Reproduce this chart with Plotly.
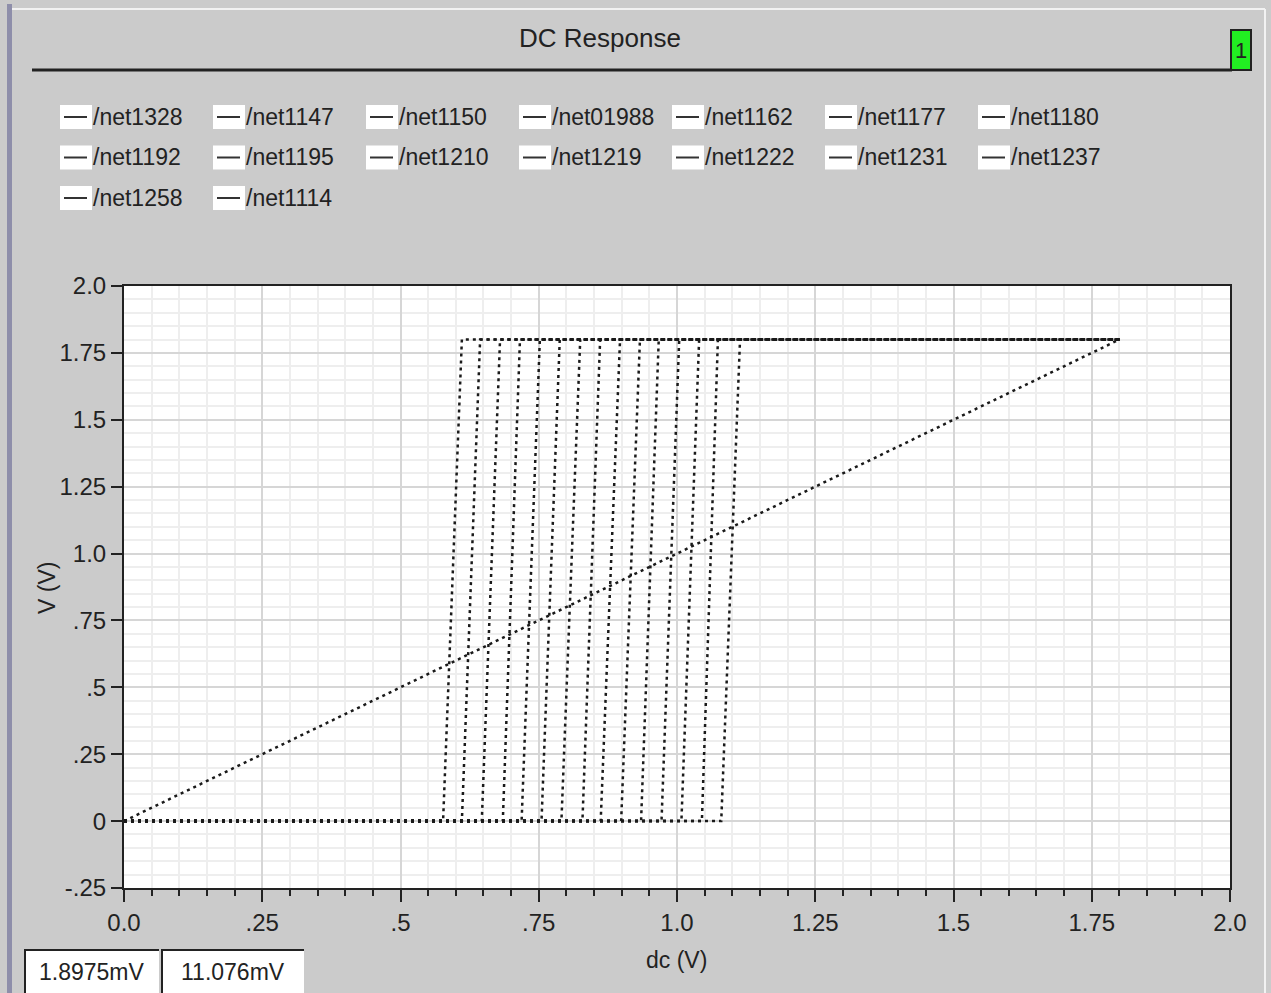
import plotly.graph_objects as go

# sweep of the dc source, and switching points
sweep_end = 1.8
v_high = 1.8
ramp_name = "/net1328"
step_names = ["/net1147", "/net1150", "/net01988", "/net1162", "/net1177", "/net1180",
              "/net1192", "/net1195", "/net1210", "/net1219", "/net1222", "/net1231",
              "/net1237", "/net1258", "/net1114"]
switch_lo = [0.577, 0.611, 0.647, 0.685, 0.719, 0.755, 0.791, 0.829,
             0.862, 0.899, 0.935, 0.972, 1.008, 1.045, 1.080]
switch_hi = [0.611, 0.644, 0.680, 0.716, 0.752, 0.788, 0.825, 0.861,
             0.897, 0.933, 0.967, 1.004, 1.040, 1.074, 1.114]

legend_names = [ramp_name] + step_names

x_tickvals = [0, 0.25, 0.5, 0.75, 1.0, 1.25, 1.5, 1.75, 2.0]
x_ticktext = ["0.0", ".25", ".5", ".75", "1.0", "1.25", "1.5", "1.75", "2.0"]
y_tickvals = [-0.25, 0, 0.25, 0.5, 0.75, 1.0, 1.25, 1.5, 1.75, 2.0]
y_ticktext = ["-.25", "0", ".25", ".5", ".75", "1.0", "1.25", "1.5", "1.75", "2.0"]

marker_a = "1.8975mV"
marker_b = "11.076mV"

W, H = 1271, 993
L, R, T, B = 124, 1230, 286, 888
FONT = "Liberation Sans, Arial, sans-serif"
PANEL = "#cbcbcb"
INK = "#222222"


def px(x):
    return (x - L) / (R - L)


def py(y):
    return (B - y) / (B - T)


def label(x, y, text, size=23, anchor="center", angle=0):
    return dict(x=px(x), y=py(y), xref="paper", yref="paper", text=text,
                showarrow=False, xanchor=anchor, yanchor="middle", textangle=angle,
                font=dict(family=FONT, size=size, color=INK))


line_style = dict(color="#1a1a1a", width=2.5, dash="3px,4px")

fig = go.Figure()
fig.add_trace(go.Scatter(x=[0, sweep_end], y=[0, sweep_end], mode="lines",
                         line=line_style, name=ramp_name))
for name, lo, hi in zip(step_names, switch_lo, switch_hi):
    fig.add_trace(go.Scatter(x=[0, lo, hi, sweep_end], y=[0, 0, v_high, v_high],
                             mode="lines", line=line_style, name=name))

shapes = []
annotations = []

# frame decorations
shapes.append(dict(type="rect", xref="paper", yref="paper", x0=px(7), x1=px(12),
                   y0=py(993), y1=py(4), fillcolor="#8e8eaa", line_width=0, layer="below"))
shapes.append(dict(type="line", xref="paper", yref="paper", x0=px(12), x1=px(1265),
                   y0=py(9), y1=py(9), line=dict(color="#f2f2f2", width=2), layer="below"))
shapes.append(dict(type="line", xref="paper", yref="paper", x0=px(1265), x1=px(1265),
                   y0=py(993), y1=py(9), line=dict(color="#f2f2f2", width=2), layer="below"))
# title underline
shapes.append(dict(type="line", xref="paper", yref="paper", x0=px(32), x1=px(1232),
                   y0=py(70), y1=py(70), line=dict(color=INK, width=3)))
# green tag
shapes.append(dict(type="rect", xref="paper", yref="paper", x0=px(1231), x1=px(1251),
                   y0=py(70), y1=py(30), fillcolor="#22ee22", line=dict(color=INK, width=2)))
annotations.append(label(1241, 51, "1", size=22))

# legend
for i, name in enumerate(legend_names):
    col, row = i % 7, i // 7
    bx = 60 + 153 * col
    by = 117 + 40.5 * row
    shapes.append(dict(type="rect", xref="paper", yref="paper", x0=px(bx), x1=px(bx + 32),
                       y0=py(by + 12), y1=py(by - 12), fillcolor="white", line_width=0))
    shapes.append(dict(type="line", xref="paper", yref="paper", x0=px(bx + 4), x1=px(bx + 27),
                       y0=py(by), y1=py(by), line=dict(color="#333333", width=2)))
    annotations.append(label(bx + 31, by, name, anchor="left"))

# marker readouts
for x0, x1, txt in [(25, 159, marker_a), (162, 304, marker_b)]:
    shapes.append(dict(type="rect", xref="paper", yref="paper", x0=px(x0), x1=px(x1),
                       y0=py(993), y1=py(950), fillcolor="white", line_width=0))
    shapes.append(dict(type="path", xref="paper", yref="paper",
                       path=f"M {px(x0)} {py(993)} L {px(x0)} {py(950)} L {px(x1)} {py(950)}",
                       line=dict(color=INK, width=2)))
    annotations.append(label((x0 + x1) / 2, 972, txt))

# axis titles
annotations.append(label(676, 960, "dc (V)"))
annotations.append(label(47, 588, "V (V)", angle=-90))

fig.update_layout(
    width=W, height=H,
    margin=dict(l=L, r=W - R, t=T, b=H - B),
    paper_bgcolor=PANEL,
    plot_bgcolor="white",
    showlegend=False,
    title=dict(text="DC Response", x=600 / W, y=1 - 38 / H, xref="container",
               yref="container", xanchor="center", yanchor="middle",
               font=dict(family=FONT, size=26, color=INK)),
    xaxis=dict(range=[0, 2.0], tickvals=x_tickvals, ticktext=x_ticktext,
               showgrid=True, gridcolor="#d6d6d6", gridwidth=2,
               ticks="outside", ticklen=12, tickwidth=2, tickcolor=INK,
               showline=True, linecolor=INK, linewidth=2, mirror=True,
               zeroline=False,
               tickfont=dict(family=FONT, size=24, color=INK),
               minor=dict(dtick=0.05, showgrid=True, gridcolor="#eeeeee", gridwidth=2,
                          ticks="outside", ticklen=6, tickwidth=2, tickcolor=INK)),
    yaxis=dict(range=[-0.25, 2.0], tickvals=y_tickvals, ticktext=y_ticktext,
               showgrid=True, gridcolor="#d6d6d6", gridwidth=2,
               ticks="outside", ticklen=11, tickwidth=2, tickcolor=INK,
               showline=True, linecolor=INK, linewidth=2, mirror=True,
               zeroline=False,
               tickfont=dict(family=FONT, size=24, color=INK),
               minor=dict(dtick=0.05, showgrid=True, gridcolor="#eeeeee", gridwidth=2)),
    yaxis2=dict(range=[-0.25, 2.0], overlaying="y", side="left", showgrid=False,
                showticklabels=False, tickvals=y_tickvals, ticks="outside", ticklen=11,
                tickwidth=2, tickcolor=INK, zeroline=False,
                minor=dict(dtick=0.025, ticks="outside", ticklen=6, tickwidth=2,
                           tickcolor=INK, showgrid=False)),
    shapes=shapes,
    annotations=annotations,
)

fig.write_html("out.html", config={"displayModeBar": False},
               post_script="document.body.style.margin='0';")
